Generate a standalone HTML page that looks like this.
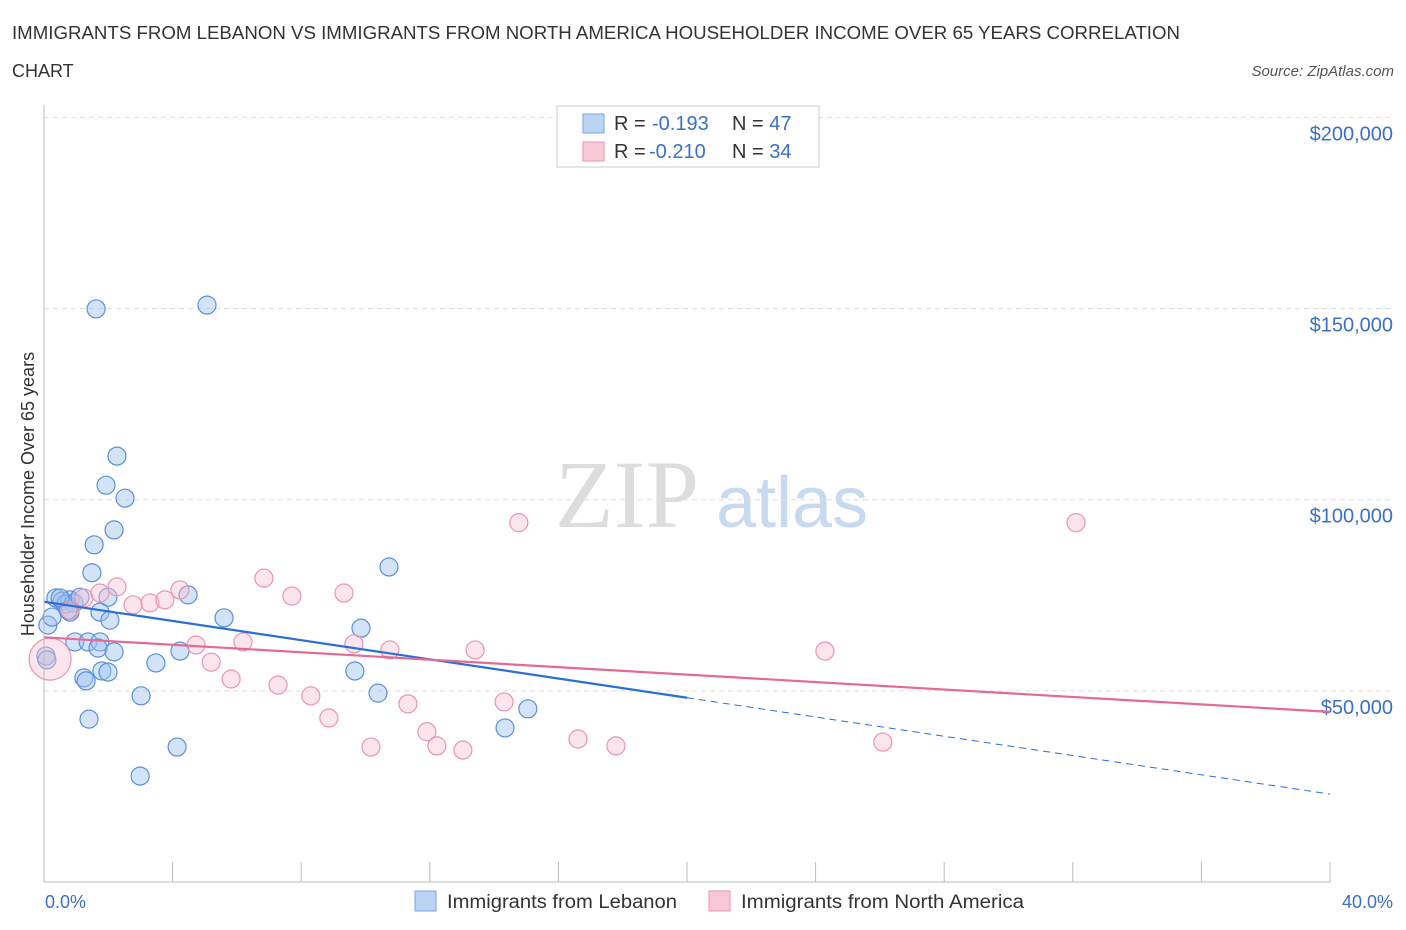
<!DOCTYPE html>
<html><head><meta charset="utf-8"><style>
body{margin:0;background:#fff;font-family:"Liberation Sans",sans-serif;}
#wrap{position:relative;width:1406px;height:930px;overflow:hidden}
</style></head><body><div id="wrap">
<svg id="svg" width="1406" height="930" xmlns="http://www.w3.org/2000/svg">
<text x="12" y="39" font-size="18" fill="#333" textLength="1168" lengthAdjust="spacingAndGlyphs">IMMIGRANTS FROM LEBANON VS IMMIGRANTS FROM NORTH AMERICA HOUSEHOLDER INCOME OVER 65 YEARS CORRELATION</text>
<text x="12" y="77" font-size="18" fill="#333">CHART</text>
<text x="1394" y="76" font-size="15" fill="#555" font-style="italic" text-anchor="end">Source: ZipAtlas.com</text>
<text x="0" y="0" transform="translate(34,494) rotate(-90)" font-size="18" fill="#333" text-anchor="middle">Householder Income Over 65 years</text>
<text x="555" y="527" font-size="96" font-family="Liberation Serif,serif" fill="#ddd">ZIP</text>
<text x="716" y="527" font-size="72" fill="#c8daf0">atlas</text>
<g id="grid"></g><g id="pts"></g><g id="lines"></g>
<line x1="44" y1="105" x2="44" y2="882" stroke="#bbb"/>
<line x1="44" y1="882" x2="1330" y2="882" stroke="#bbb"/>
<text x="45" y="908" font-size="18" fill="#3a70c8">0.0%</text>
<text x="1393" y="908" font-size="18" fill="#3a70c8" text-anchor="end">40.0%</text>
<g>
<rect x="557" y="106" width="262" height="61" fill="#fff" stroke="#ccc"/>
<rect x="583" y="114" width="21" height="19" fill="#bcd4f4" stroke="#7aa6e6"/>
<rect x="583" y="142" width="21" height="19" fill="#f9c8d6" stroke="#eb94b0"/>
<text x="614" y="130" font-size="20" fill="#333">R = <tspan x="652" fill="#3a70c8">-0.193</tspan><tspan x="732">N = </tspan><tspan fill="#3a70c8">47</tspan></text>
<text x="614" y="158" font-size="20" fill="#333">R = <tspan x="649" fill="#3a70c8">-0.210</tspan><tspan x="732">N = </tspan><tspan fill="#3a70c8">34</tspan></text>
</g>
<g>
<rect x="415" y="891" width="21" height="20" fill="#bcd4f4" stroke="#7aa6e6"/>
<text x="447" y="908" font-size="19" fill="#333" textLength="230" lengthAdjust="spacingAndGlyphs">Immigrants from Lebanon</text>
<rect x="709" y="891" width="21" height="20" fill="#f9c8d6" stroke="#eb94b0"/>
<text x="741" y="908" font-size="19" fill="#333" textLength="283" lengthAdjust="spacingAndGlyphs">Immigrants from North America</text>
</g>
</svg></div>
<script>
const yTicks=[50000,100000,150000,200000];
const yTickLabels=["$50,000","$100,000","$150,000","$200,000"];
const xTicks=[0,4,8,12,16,20,24,28,32,36,40];
const blueX=[1.62,5.07,2.27,1.93,2.52,2.18,1.56,1.49,0.37,0.56,0.81,0.68,0.93,1.12,1.99,4.48,5.6,0.81,1.74,2.05,0.12,0.06,0.96,1.37,1.74,1.68,2.18,4.23,3.48,1.80,1.99,1.24,1.31,9.67,9.86,10.73,10.39,3.02,1.40,4.14,2.99,14.34,15.05,0.25,0.75,0.09,0.50];
const blueY=[149.9,150.9,111.4,103.8,100.4,92.1,88.2,80.9,74.3,73.5,73.8,72.7,73.0,74.5,74.5,75.1,69.1,70.6,70.6,68.5,67.2,59.1,62.8,62.8,62.8,61.2,60.2,60.4,57.3,55.2,54.9,53.4,52.6,55.2,66.4,82.4,49.4,48.7,42.6,35.3,27.7,40.3,45.3,69.3,71.1,58.1,74.3];
const pinkX=[0.19,1.24,1.74,2.27,2.77,3.30,3.76,4.23,4.73,5.20,5.82,6.19,6.84,7.28,7.71,8.30,8.86,9.33,9.64,10.17,10.76,11.32,11.91,12.22,13.03,13.41,14.31,14.77,16.61,17.79,24.29,26.09,32.10,0.81];
const pinkY=[58.3,74.3,75.6,77.2,72.5,73.0,73.8,76.4,62.0,57.5,53.1,62.8,79.5,51.5,74.8,48.7,42.9,75.6,62.3,35.3,60.7,46.6,39.3,35.6,34.5,60.7,47.1,94.0,37.4,35.6,60.4,36.6,94.0,71.1];
const blueTrend=[[0,73.3],[20,48.2],[40,23.0]];
const pinkTrend=[[0,64.0],[40,44.5]];
const X=v=>44+v*32.15, Y=v=>882-v*3.823; // v in thousands
const NS="http://www.w3.org/2000/svg";
function mk(tag,attrs,parent){const e=document.createElementNS(NS,tag);for(const k in attrs)e.setAttribute(k,attrs[k]);parent.appendChild(e);return e;}
const grid=document.getElementById('grid'),pts=document.getElementById('pts'),lines=document.getElementById('lines');
yTicks.forEach((t,i)=>{const y=Y(t/1000);
 const l=mk('line',{x1:44,x2:1394,y1:y,y2:y,stroke:'#ddd','stroke-dasharray':'5,4'},grid);
 
 
 const tx=mk('text',{x:1393,y:y+23,'font-size':20,fill:'#3a70c8','text-anchor':'end'},grid);tx.textContent=yTickLabels[i];
 
 });
xTicks.forEach(t=>{const x=X(t);const l=mk('line',{x1:x,x2:x,y1:862,y2:882,stroke:'#bbb'},grid);
 
 });
blueX.forEach((v,i)=>{const c=mk('circle',{cx:X(v),cy:Y(blueY[i]),r:9,fill:'rgba(160,196,240,0.45)',stroke:'#5b8fdc','stroke-width':1.2},pts);
 
 });
pinkX.forEach((v,i)=>{const c=mk('circle',{cx:X(v),cy:Y(pinkY[i]),r:i==0?21:9,fill:'rgba(248,190,208,0.4)',stroke:'#eb94b0','stroke-width':1.2},pts);
 
 });
let l=mk('line',{x1:X(blueTrend[0][0]),y1:Y(blueTrend[0][1]),x2:X(blueTrend[1][0]),y2:Y(blueTrend[1][1]),stroke:'#2a6fd6','stroke-width':2.2},lines);


l=mk('line',{x1:X(blueTrend[1][0]),y1:Y(blueTrend[1][1]),x2:X(blueTrend[2][0]),y2:Y(blueTrend[2][1]),stroke:'#2a6fd6','stroke-width':1,'stroke-dasharray':'7,5'},lines);


l=mk('line',{x1:X(pinkTrend[0][0]),y1:Y(pinkTrend[0][1]),x2:X(pinkTrend[1][0]),y2:Y(pinkTrend[1][1]),stroke:'#e46a93','stroke-width':2.2},lines);


</script></body></html>
